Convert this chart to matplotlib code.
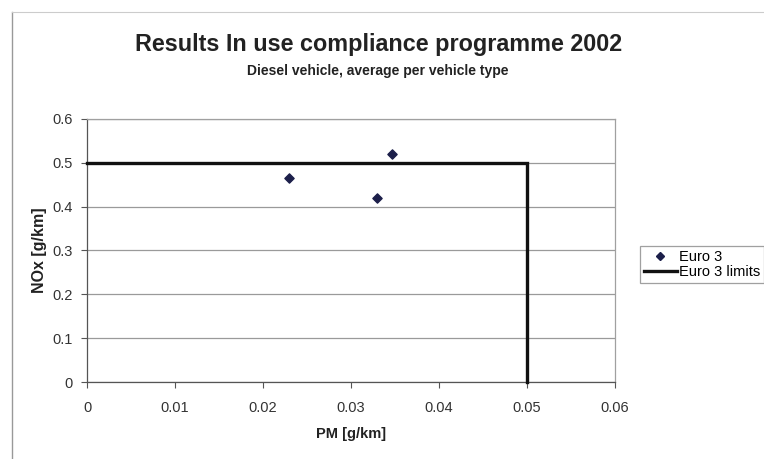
import matplotlib
matplotlib.use("Agg")
import matplotlib.pyplot as plt
from matplotlib.lines import Line2D

plt.rcParams['font.family'] = ['Liberation Sans', 'DejaVu Sans']

# Data
pm_values = [0.023, 0.033, 0.0347]
nox_values = [0.465, 0.42, 0.52]
limit_pm = [0.0, 0.05, 0.05]
limit_nox = [0.5, 0.5, 0.0]
x_ticks = [0, 0.01, 0.02, 0.03, 0.04, 0.05, 0.06]
x_tick_labels = ["0", "0.01", "0.02", "0.03", "0.04", "0.05", "0.06"]
y_ticks = [0, 0.1, 0.2, 0.3, 0.4, 0.5, 0.6]
y_tick_labels = ["0", "0.1", "0.2", "0.3", "0.4", "0.5", "0.6"]

fig = plt.figure(figsize=(7.64, 4.59), dpi=100)
ax = fig.add_axes([87/764, 1-382/459, (615-87)/764, (382-119)/459])

ax.set_xlim(0, 0.06)
ax.set_ylim(0, 0.6)
ax.set_xticks(x_ticks)
ax.set_xticklabels(x_tick_labels)
ax.set_yticks(y_ticks)
ax.set_yticklabels(y_tick_labels)
ax.grid(axis='y', color='#9a9a9a', linewidth=0.9)
ax.set_axisbelow(True)
for s in ['top', 'right']:
    ax.spines[s].set_color('#a0a0a0')
    ax.spines[s].set_linewidth(0.9)
for s in ['left', 'bottom']:
    ax.spines[s].set_color('#555555')
    ax.spines[s].set_linewidth(0.9)
ax.tick_params(axis='both', colors='#555555', labelcolor='#333333', labelsize=10.5,
               direction='out', length=4, width=0.8)
ax.tick_params(axis='x', pad=10)
ax.tick_params(axis='y', pad=6)

ax.plot(limit_pm, limit_nox, color='#111111', linewidth=2.4, solid_joinstyle='miter',
        label='Euro 3 limits', zorder=3, clip_on=False)
ax.scatter(pm_values, nox_values, marker='D', s=22, color='#1c1f4a', zorder=4, label='Euro 3')

ax.set_xlabel('PM [g/km]', fontsize=10.5, fontweight='bold', color='#222222', labelpad=8)
ax.set_ylabel('NOx [g/km]', fontsize=11.5, fontweight='bold', color='#222222', labelpad=4)

fig.text(0.495, 1-45/459, 'Results In use compliance programme 2002', ha='center', va='center',
         fontsize=16.8, fontweight='bold', color='#222222')
fig.text(0.495, 1-71/459, 'Diesel vehicle, average per vehicle type', ha='center', va='center',
         fontsize=10, fontweight='bold', color='#222222')

handles = [Line2D([], [], marker='D', linestyle='none', color='#1c1f4a', markersize=4),
           Line2D([], [], color='#111111', linewidth=2.4)]
leg = fig.legend(handles, ['Euro 3', 'Euro 3 limits'], loc='upper left',
                 bbox_to_anchor=(640/764, 1-246/459), frameon=True, fancybox=False,
                 fontsize=10.5, handlelength=2.3, handletextpad=0.1, borderpad=0.25,
                 labelspacing=0.1, borderaxespad=0)
leg.get_frame().set_edgecolor('#888888')
leg.get_frame().set_linewidth(0.9)

# chart area border (left and top)
fig.add_artist(Line2D([12/764, 12/764], [0, 1-12/459], color='#999999', linewidth=1.0))
fig.add_artist(Line2D([12/764, 1], [1-12/459, 1-12/459], color='#cccccc', linewidth=0.8))

fig.savefig('out.png', dpi=100)
